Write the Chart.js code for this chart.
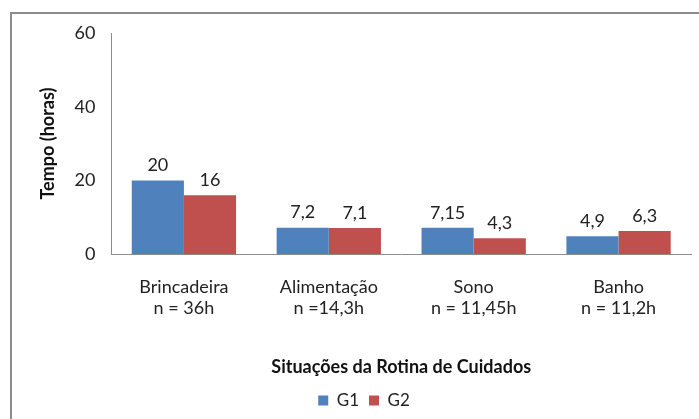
<!DOCTYPE html>
<html>
<head>
<meta charset="utf-8">
<script src="https://cdn.jsdelivr.net/npm/chart.js@4"></script>
<style>
  html, body { margin:0; padding:0; background:#fff; }
  #wrap { position:relative; width:699px; height:419px; overflow:hidden; }
  #frame { position:absolute; left:10px; top:12px; width:800px; height:500px;
           border-top:2px solid #8c8c8c; border-left:2px solid #8c8c8c; box-sizing:border-box; }
  canvas { position:absolute; left:0; top:0; }
</style>
</head>
<body>
<div id="wrap">
  <div id="frame"></div>
  <canvas id="chart" width="699" height="419"></canvas>
</div>
<script>
// categories (two-line labels) and the two groups
const categories = [
  ['Brincadeira', 'n = 36h'],
  ['Alimentação', 'n =14,3h'],
  ['Sono', 'n = 11,45h'],
  ['Banho', 'n = 11,2h']
];
const g1Values = [20, 7.2, 7.15, 4.9];
const g2Values = [16, 7.1, 4.3, 6.3];
const yTicks = [0, 20, 40, 60];

const FONT = 'Lato, "Open Sans", sans-serif';

// draw the value above each bar, decimal comma like the original
const valueLabels = {
  id:'valueLabels',
  afterDatasetsDraw(chart){
    const ctx = chart.ctx;
    ctx.save();
    ctx.font = '18px ' + FONT;
    ctx.fillStyle = '#222';
    ctx.textAlign = 'center';
    ctx.textBaseline = 'bottom';
    chart.data.datasets.forEach((ds, i)=>{
      chart.getDatasetMeta(i).data.forEach((bar, j)=>{
        const txt = String(ds.data[j]).replace('.', ',');
        ctx.fillText(txt, bar.x, bar.y - 6);
      });
    });
    ctx.restore();
  }
};

new Chart(document.getElementById('chart'), {
  type:'bar',
  data:{
    labels:categories,
    datasets:[
      {label:'G1', data:g1Values, backgroundColor:'#4F81BD'},
      {label:'G2', data:g2Values, backgroundColor:'#C0504D'}
    ]
  },
  options:{
    responsive:false,
    animation:false,
    devicePixelRatio:1,
    categoryPercentage:0.72,
    barPercentage:1,
    layout:{padding:{left:37, right:8, top:33, bottom:0}},
    plugins:{
      legend:{
        position:'bottom',
        labels:{font:{family:FONT, size:17}, color:'#222', boxWidth:10, boxHeight:10, padding:10}
      },
      tooltip:{enabled:false}
    },
    scales:{
      x:{
        grid:{display:false, drawTicks:false},
        border:{display:true, color:'#8c8c8c', width:1},
        ticks:{font:{family:FONT, size:18}, color:'#222', padding:22, maxRotation:0},
        title:{display:true, text:'Situações da Rotina de Cuidados',
               font:{family:FONT, size:18, weight:'bold'}, color:'#111', padding:{top:15, bottom:4}}
      },
      y:{
        min:0, max:60,
        afterBuildTicks(axis){ axis.ticks = yTicks.map(v=>({value:v})); },
        grid:{display:false, drawTicks:false},
        border:{display:true, color:'#8c8c8c', width:1},
        ticks:{font:{family:FONT, size:18}, color:'#222', padding:16},
        title:{display:true, text:'Tempo (horas)',
               font:{family:FONT, size:18, weight:'bold'}, color:'#111', padding:{top:0, bottom:0}}
      }
    }
  },
  plugins:[valueLabels]
});
</script>
</body>
</html>
